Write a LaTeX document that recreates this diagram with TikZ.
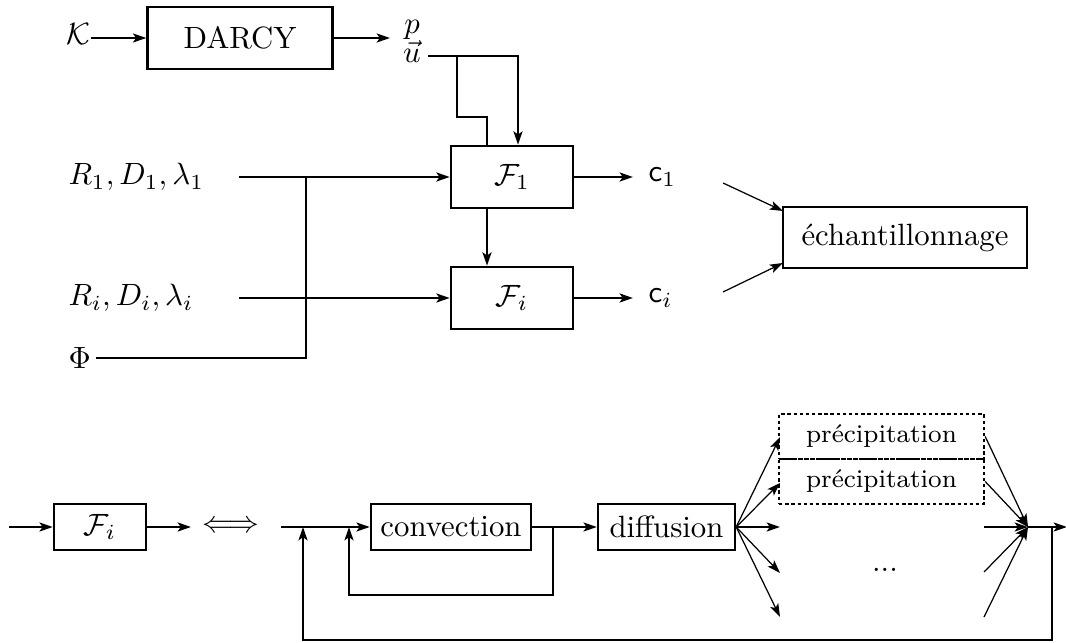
\documentclass[tikz,border=0pt]{standalone}
\usetikzlibrary{arrows.meta}
\begin{document}
\begin{tikzpicture}[x=0.325pt,y=-0.325pt,
  box/.style={draw,line width=0.8pt,inner sep=0pt,minimum height=20.2pt},
  sbox/.style={draw,line width=0.8pt,inner sep=0pt,minimum height=15pt},
  dbox/.style={draw,line width=0.8pt,dash pattern=on 1.1pt off 0.9pt,inner sep=0pt,
    minimum width=66.6pt,minimum height=14.6pt,font=\fontsize{8.3}{10}\selectfont},
  thk/.style={line width=0.8pt},
  thn/.style={line width=0.4pt},
  arr/.style={-{Stealth[length=4.3pt,width=2.9pt,inset=1pt]}},
  lbl/.style={inner sep=0pt}
]
\useasboundingbox (0,0) rectangle (1066,643);

% ---------- top part ----------
\node[lbl] (K) at (78,34) {$\mathcal{K}$};
\node[box,minimum width=60.1pt] (darcy) at (240,38) {DARCY};
\node[lbl] (p) at (412,30) {$p$};
\node[lbl] (u) at (412,52) {$\vec{u}$};
\coordinate (da) at (390,38);
\coordinate (uout) at (428,56);
\coordinate (uc) at (518,56);
\coordinate (ub) at (457,56);
\coordinate (ub2) at (457,117);
\coordinate (ub3) at (487,117);

\node[box,minimum width=39.7pt] (F1) at (512,177) {$\mathcal{F}_1$};
\node[box,minimum width=39.7pt] (Fi) at (512,298) {$\mathcal{F}_i$};

\draw[thk,arr] (K.east |- darcy.west) -- (darcy.west);
\draw[thk,arr] (darcy.east) -- (da);
\draw[thk,arr] (uout) -- (uc) -- (uc |- F1.north);
\draw[thk] (ub) -- (ub2) -- (ub3) -- (ub3 |- F1.north);
\draw[thk,arr] (F1.south -| ub3) -- (Fi.north -| ub3);

\node[lbl,anchor=west] (R1) at (68,177) {$R_1, D_1, \lambda_1$};
\node[lbl,anchor=west] (Ri) at (68,298) {$R_i, D_i, \lambda_i$};
\node[lbl,anchor=west] (Phi) at (68,358) {$\Phi$};
\coordinate (r1s) at (239,177);
\coordinate (ris) at (239,298);
\coordinate (jx) at (306,177);
\coordinate (phj) at (306,358);
\draw[thk,arr] (r1s) -- (F1.west);
\draw[thk,arr] (ris) -- (Fi.west);
\draw[thk] ([xshift=1.6pt]Phi.east) -- (phj) -- (jx);

\node[lbl,anchor=west] (c1) at (648,177) {$\mathsf{c}_1$};
\node[lbl,anchor=west] (ci) at (648,298) {$\mathsf{c}_i$};
\draw[thk,arr,shorten >=4.9pt] (F1.east) -- (c1.west);
\draw[thk,arr,shorten >=4.9pt] (Fi.east) -- (ci.west);

\node[box,minimum width=79.3pt,minimum height=19.8pt] (ech) at (905,237.5) {échantillonnage};
\coordinate (e1) at (723,183);
\coordinate (e2) at (723,292);
\coordinate (e1t) at (783,211);
\coordinate (e2t) at (783,263);
\draw[thn,arr] (e1) -- (e1t);
\draw[thn,arr] (e2) -- (e2t);

% ---------- bottom part ----------
\node[sbox,minimum width=29.9pt] (Fb) at (100,527) {$\mathcal{F}_i$};
\coordinate (bin) at (9,527);
\coordinate (bout) at (191,527);
\draw[thk,arr] (bin) -- (Fb.west);
\draw[thk,arr] (Fb.east) -- (bout);
\node[lbl] (eq) at (231,527) {$\Longleftrightarrow$};

\coordinate (ms) at (281,527);
\node[sbox,minimum width=52pt] (conv) at (451,527) {convection};
\node[sbox,minimum width=44.5pt] (diff) at (666.5,527) {diffusion};
\coordinate (fb1) at (303,527);
\coordinate (fb2) at (349,527);
\coordinate (br) at (553,527);
\coordinate (jn) at (1028,527);
\coordinate (rb) at (1052,527);
\coordinate (outE) at (1067,527);
\coordinate (lo1) at (553,595);
\coordinate (lo2) at (349,595);
\coordinate (lb1) at (1052,640);
\coordinate (lb2) at (303,640);

\draw[thk,arr] (ms) -- (conv.west);
\draw[thk,arr] (conv.east) -- (diff.west);
\draw[thk,arr] (br) -- (lo1) -- (lo2) -- (fb2);
\draw[thk,arr] (rb) -- (lb1) -- (lb2) -- (fb1);

\node[dbox] (pr1) at (881.5,436.5) {précipitation};
\node[dbox] (pr2) at (881.5,481.5) {précipitation};
\node[lbl] (dots) at (885,570) {...};

\coordinate (f1) at (780,437);
\coordinate (f2) at (780,483);
\coordinate (f3) at (780,527);
\coordinate (f4) at (780,573);
\coordinate (f5) at (780,617);
\draw[thn,arr] (diff.east) -- (f1);
\draw[thn,arr] (diff.east) -- (f2);
\draw[thk,arr] (diff.east) -- (f3);
\draw[thn,arr] (diff.east) -- (f4);
\draw[thn,arr] (diff.east) -- (f5);

\coordinate (g3) at (984,527);
\coordinate (g4) at (984,572);
\coordinate (g5) at (984,617);
\draw[thn,arr] (pr1.east) -- (jn);
\draw[thn,arr] (pr2.east) -- (jn);
\draw[thk,arr] (g3) -- (jn);
\draw[thn,arr] (g4) -- (jn);
\draw[thn,arr] (g5) -- (jn);
\draw[thk,arr] (jn) -- (outE);
\end{tikzpicture}
\end{document}
